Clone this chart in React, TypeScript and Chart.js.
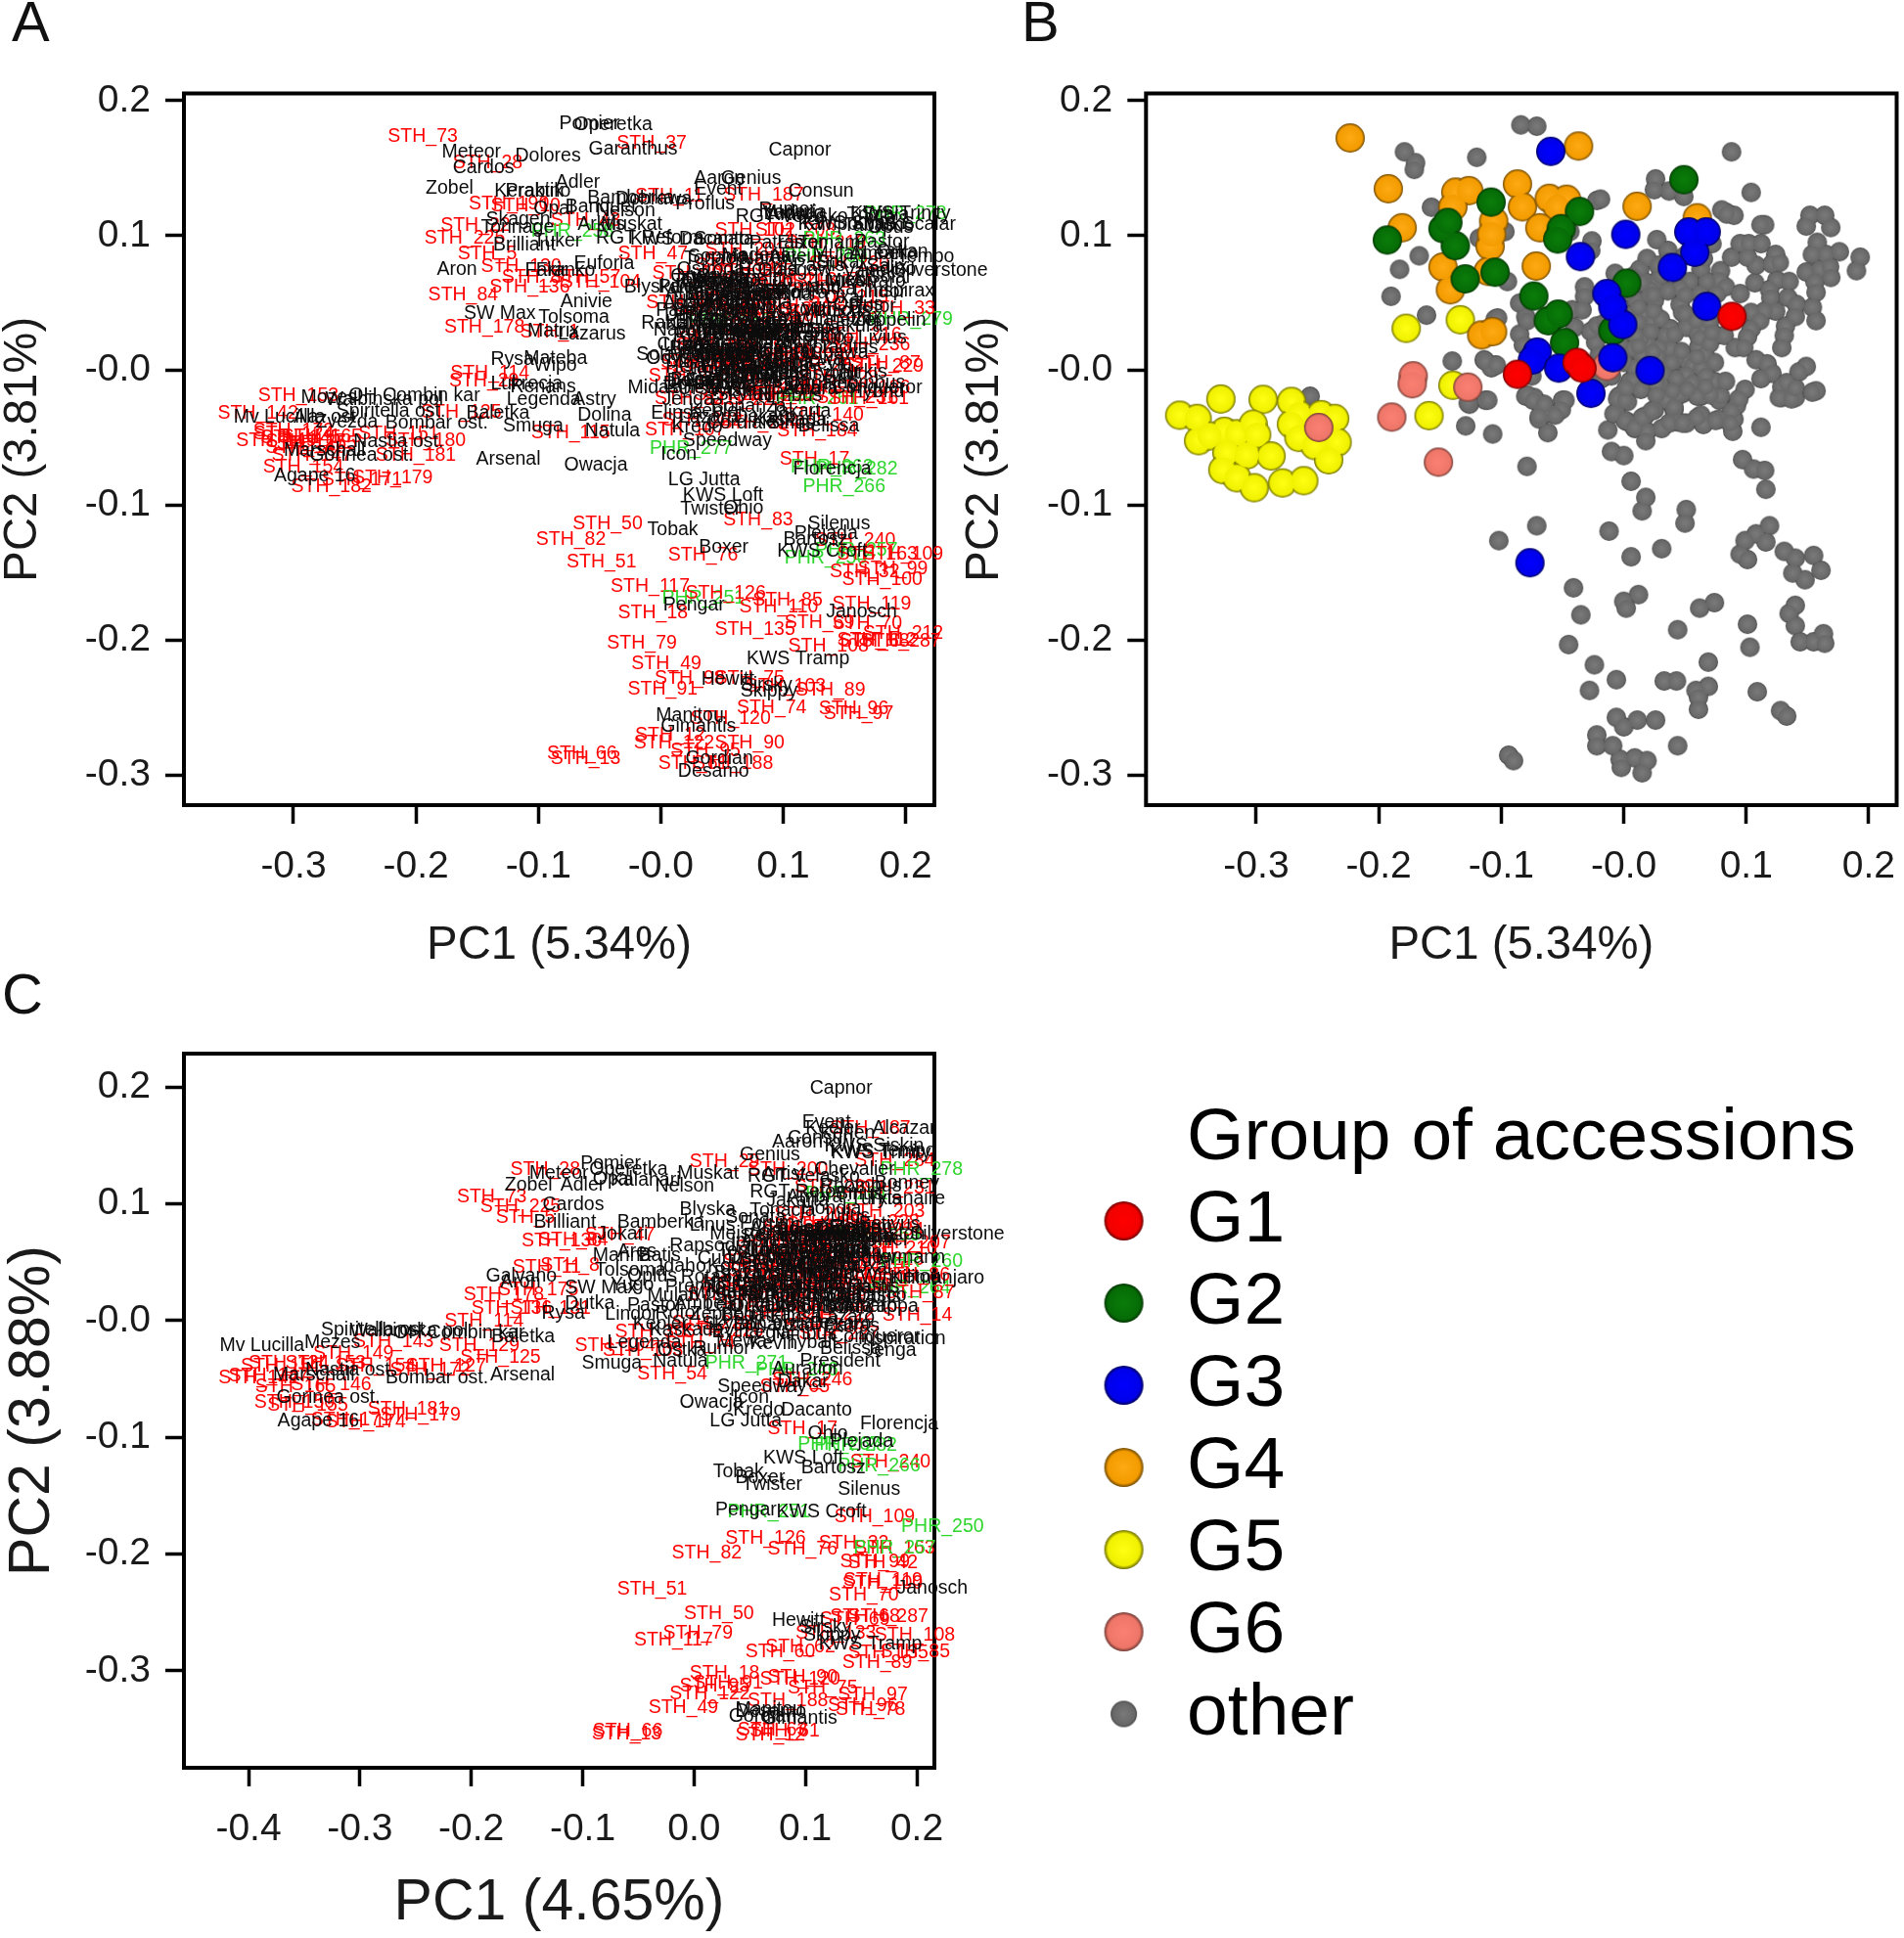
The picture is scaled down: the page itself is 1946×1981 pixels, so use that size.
import React, { useEffect, useRef } from "react";
import { Chart, registerables } from "chart.js";

Chart.register(...registerables);

type Row = [string, number, number];
type Pt = [number, number];

const FONT = '"Liberation Sans", Arial, sans-serif';

const xTicksAB = [-0.3, -0.2, -0.1, 0, 0.1, 0.2];
const xTickLabelsAB = ["-0.3", "-0.2", "-0.1", "-0.0", "0.1", "0.2"];
const xTicksC = [-0.4, -0.3, -0.2, -0.1, 0, 0.1, 0.2];
const xTickLabelsC = ["-0.4", "-0.3", "-0.2", "-0.1", "0.0", "0.1", "0.2"];
const yTicks = [0.2, 0.1, 0, -0.1, -0.2, -0.3];
const yTickLabels = ["0.2", "0.1", "-0.0", "-0.1", "-0.2", "-0.3"];

const legendNames = ["G1", "G2", "G3", "G4", "G5", "G6", "other"];

const g1Points: Pt[] = [[-0.0868, -0.0028], [-0.0381, 0.006], [-0.0341, 0.0018], [0.0884, 0.0401]];
const g2Points: Pt[] = [[0.0491, 0.1414], [-0.1083, 0.1248], [-0.0361, 0.1178], [-0.0511, 0.1051], [-0.0539, 0.0974], [-0.193, 0.0967], [-0.1476, 0.1051], [-0.1436, 0.1097], [-0.1375, 0.0925], [-0.1294, 0.0679], [-0.105, 0.0728], [0.0024, 0.0647], [-0.0734, 0.0552], [-0.0616, 0.0369], [-0.0535, 0.0418], [-0.0483, 0.0207], [-0.0089, 0.0295]];
const g3Points: Pt[] = [[-0.0596, 0.1624], [0.0016, 0.1009], [-0.0353, 0.0844], [0.0531, 0.1027], [0.0673, 0.1027], [0.058, 0.0876], [0.0397, 0.0763], [0.0677, 0.0475], [-0.0138, 0.057], [-0.0089, 0.0471], [-0.0008, 0.0341], [-0.0089, 0.0095], [-0.0706, 0.0137], [-0.0746, 0.0077], [-0.0531, 0.0018], [0.0215, 0], [-0.0268, -0.0169], [-0.0766, -0.1424]];
const g4Points: Pt[] = [[-0.2234, 0.1723], [-0.0369, 0.1663], [-0.1922, 0.1347], [-0.0868, 0.1382], [-0.0827, 0.1213], [0.0109, 0.1217], [0.06, 0.1132], [-0.1371, 0.1322], [-0.1265, 0.1333], [-0.1395, 0.1213], [-0.0608, 0.1276], [-0.0466, 0.1269], [-0.0543, 0.1213], [-0.0685, 0.1058], [-0.1809, 0.1058], [-0.0714, 0.0774], [-0.1476, 0.0767], [-0.1415, 0.0598], [-0.1091, 0.0921], [-0.1062, 0.1108], [-0.1079, 0.1009], [-0.1107, 0.0735], [-0.116, 0.0264], [-0.1071, 0.0288]];
const g5Points: Pt[] = [[-0.3289, -0.0211], [-0.2944, -0.0214], [-0.3625, -0.0331], [-0.3483, -0.0355], [-0.3471, -0.052], [-0.326, -0.045], [-0.3382, -0.0485], [-0.3159, -0.0468], [-0.3025, -0.0397], [-0.2997, -0.0475], [-0.324, -0.0608], [-0.3078, -0.0626], [-0.3273, -0.0735], [-0.3159, -0.0795], [-0.3017, -0.0868], [-0.2879, -0.0633], [-0.2786, -0.0833], [-0.2612, -0.0816], [-0.2713, -0.0229], [-0.2652, -0.0327], [-0.2713, -0.0397], [-0.2652, -0.0496], [-0.247, -0.0327], [-0.236, -0.0355], [-0.234, -0.0531], [-0.2522, -0.0556], [-0.2409, -0.0661], [-0.1776, 0.0313], [-0.1334, 0.0376], [-0.1395, -0.0109], [-0.159, -0.0334]];
const g6Points: Pt[] = [[-0.1719, -0.0039], [-0.1727, -0.0098], [-0.1273, -0.0123], [-0.1894, -0.0345], [-0.1513, -0.0679], [-0.249, -0.0422], [-0.0138, 0.0032]];

// grey accessions outside the dense core
const otherPoints: Pt[] = [[-0.026, 0.096], [-0.027, 0.089], [-0.022, 0.126], [-0.032, 0.062], [-0.032, 0.055], [-0.042, 0.045], [-0.034, 0.045], [-0.085, 0.05], [-0.08, 0.04], [-0.085, 0.027], [-0.082, 0.019], [-0.079, 0.037], [-0.04, 0.032], [-0.075, -0.004], [-0.105, 0.038], [-0.114, 0.008], [-0.105, 0.004], [-0.108, 0.002], [-0.018, -0.006], [-0.023, 0.021], [-0.027, 0.029], [-0.022, 0.033], [-0.08, -0.019], [-0.073, -0.02], [-0.068, -0.025], [-0.058, -0.032], [-0.069, -0.036], [-0.05, -0.022], [-0.064, -0.032], [-0.113, -0.022], [-0.126, -0.025], [-0.095, 0.066], [-0.097, 0.103], [-0.118, 0.098], [-0.044, 0.103],
[-0.084, 0.182], [-0.071, 0.181], [-0.12, 0.158], [-0.179, 0.162], [-0.17, 0.154], [-0.171, 0.149], [0.088, 0.162], [0.104, 0.132], [0.026, 0.142], [0.025, 0.134], [0.037, 0.133], [0.049, 0.129], [-0.019, 0.127], [-0.157, 0.121], [0.084, 0.117], [0.09, 0.115], [0.115, 0.108], [-0.167, 0.085], [-0.183, 0.075], [-0.19, 0.055], [-0.161, 0.041], [-0.103, 0.039], [-0.14, 0.007], [-0.113, 0.007], [-0.104, 0.004], [-0.256, -0.019], [-0.127, -0.024], [-0.111, -0.022], [-0.129, -0.041], [-0.107, -0.047], [-0.079, -0.071],
[0.006, -0.082], [0.018, -0.094], [0.015, -0.104], [0.051, -0.103], [0.05, -0.113], [0.097, -0.066], [0.106, -0.073], [0.115, -0.074], [0.116, -0.088], [-0.071, -0.115], [-0.102, -0.126], [-0.012, -0.119], [0.031, -0.132], [0.006, -0.138], [0.119, -0.115], [0.108, -0.121], [0.099, -0.126], [0.116, -0.127], [0.095, -0.136], [0.101, -0.14], [0.131, -0.134], [0.14, -0.139], [0.138, -0.15], [0.148, -0.155], [0.155, -0.137], [0.161, -0.148], [-0.041, -0.161], [-0.035, -0.181], [0.012, -0.166], [0, -0.171], [0.002, -0.176], [0.074, -0.172], [0.062, -0.176], [0.14, -0.174], [0.135, -0.18], [0.14, -0.189], [0.101, -0.188], [0.044, -0.192], [0.103, -0.205], [0.144, -0.201], [0.155, -0.201], [0.163, -0.195], [0.164, -0.202], [-0.045, -0.203], [-0.024, -0.218], [0.069, -0.216], [-0.006, -0.229], [-0.028, -0.237], [0.033, -0.23], [0.043, -0.23], [0.069, -0.234], [0.059, -0.237], [0.061, -0.242], [0.061, -0.251], [0.109, -0.238], [0.128, -0.252], [0.133, -0.256], [-0.006, -0.257], [0, -0.264], [0.011, -0.259], [0.026, -0.259], [-0.022, -0.27], [-0.022, -0.278], [-0.009, -0.278], [0.044, -0.278], [-0.003, -0.288], [0.009, -0.287], [0.019, -0.289], [0.015, -0.298], [-0.002, -0.294], [-0.094, -0.285], [-0.09, -0.289],
[-0.079, -0.018], [-0.074, -0.022], [-0.065, -0.025], [-0.048, -0.022], [-0.051, -0.029], [-0.056, -0.033], [-0.069, -0.034], [-0.062, -0.046], [-0.004, -0.019], [0.003, -0.023], [-0.006, -0.031], [0.003, -0.038], [0.009, -0.043], [0.017, -0.034], [0.025, -0.029], [0.019, -0.045], [0.018, -0.052], [0.031, -0.043], [0.037, -0.022], [0.048, -0.017], [0.041, -0.029], [0.043, -0.038], [0.051, -0.039], [0.063, -0.033], [0.065, -0.04], [0.078, -0.036], [0.089, -0.045], [0.09, -0.036], [0.092, -0.026], [0.063, -0.019], [0.078, -0.022], [0.112, -0.042], [-0.013, -0.044], [-0.01, -0.06], [0, -0.063], [0.129, -0.012], [0.14, -0.02], [0.129, -0.02], [0.157, -0.015], [0.015, -0.008], [0.03, -0.01], [0.006, -0.008]];

// dense core of accessions: same coordinates in panels A and B
const coreAB: Row[] = [["Sonata", 0.027, 0.097], ["STH_201", 0.036, 0.089], ["Tonacja", 0.019, 0.083], ["Ostroga", 0.013, 0.075], ["STH_202", -0.007, 0.072], ["Patras", 0.072, 0.094], ["Hondia", 0.063, 0.075], ["STH_203", 0.054, 0.066], ["Julius", 0.046, 0.061], ["Linus", 0.062, 0.057], ["Forum", 0.046, 0.049], ["STH_204", 0.048, 0.043], ["Reform", 0.025, 0.065], ["Estivus", 0.017, 0.066], ["Meister", 0.022, 0.06], ["STH_205", 0.025, 0.052], ["Fidelius", 0.01, 0.052], ["Florus", 0.017, 0.042], ["PHR_259", 0.023, 0.036], ["Gaston", 0.03, 0.038], ["Impression", 0.038, 0.031], ["STH_206", 0.051, 0.032], ["Markiza", 0.06, 0.028], ["Nordkap", 0.075, 0.026], ["Orlando", 0.067, 0.031], ["Pionier", 0.061, 0.017], ["STH_207", 0.052, 0.007], ["Rapsodia", 0.056, 0.004], ["Torrild", 0.063, 0.002], ["Tulecka", 0.051, -0.003], ["STH_209", 0.043, 0.009], ["Waxwing", 0.038, 0.016], ["Xenon", 0.029, 0.017], ["Zyta", 0.019, 0.021], ["STH_210", 0.014, 0.023], ["Batis", 0.007, 0.016], ["Cubus", -0.003, 0.019], ["Dekan", 0.005, -0.008], ["STH_211", 0.009, 0.002], ["Ellvis", 0.033, 0.002], ["Figura", 0.027, -0.01], ["Glasgow", 0.079, 0.074], ["STH_213", 0.078, 0.067], ["Hermann", 0.083, 0.062], ["Idaho", 0.076, 0.057], ["Kobra", 0.095, 0.057], ["STH_214", 0.107, 0.065], ["Limes", 0.125, 0.067], ["Mikon", 0.135, 0.066], ["Nutka", 0.119, 0.06], ["STH_215", 0.12, 0.054], ["Oxal", 0.134, 0.054], ["Qplus", 0.141, 0.049], ["Rotax", 0.14, 0.04], ["Sakura", 0.132, 0.033], ["STH_216", 0.131, 0.026], ["Tacitus", 0.129, 0.017], ["Ubicus", 0.124, 0.044], ["Viki", 0.115, 0.044], ["STH_217", 0.104, 0.043], ["Winnetou", 0.111, 0.037], ["Yugo", 0.104, 0.031], ["Premio", 0.101, 0.025], ["STH_218", 0.091, 0.017], ["Sailor", 0.098, 0.017], ["Akteur", 0.088, 0.084], ["Elixer", 0.095, 0.094], ["STH_219", 0.102, 0.094], ["Tomami", 0.112, 0.094], ["Pastis", 0.108, 0.078], ["PHR_260", 0.101, 0.084], ["Mulan", 0.124, 0.086], ["STH_220", 0.121, 0.079], ["Sokal", 0.127, 0.08], ["Kampo", 0.112, 0.108], ["Rumor", 0.08, 0.119], ["Ludwig", 0.084, 0.116], ["Trinity", 0.152, 0.115], ["Scala", 0.164, 0.115], ["Tabasco", 0.149, 0.107], ["Opus", 0.169, 0.106], ["Pastor", 0.158, 0.095], ["Ambello", 0.154, 0.086], ["Lear", 0.165, 0.086], ["Orkan", 0.176, 0.088], ["Tempo", 0.193, 0.084], ["Silverstone", 0.19, 0.074], ["Vanek", 0.149, 0.073], ["Andino", 0.16, 0.075], ["Salix", 0.168, 0.077], ["Solar", 0.169, 0.069], ["Alvaro", 0.156, 0.066], ["Lindor", 0.157, 0.058], ["Rotor", 0.154, 0.047], ["Zeppelin", 0.157, 0.037],
["Bogatka", 0.008, -0.007], ["STH_221", -0.005, -0.021], ["Jenga", 0.001, -0.022], ["Elipsa", -0.008, -0.032], ["STH_222", 0.001, -0.037], ["Kredo", 0.009, -0.042], ["Lazaro", 0.015, -0.035], ["Kepler", 0.023, -0.03], ["STH_223", 0.035, -0.022], ["Skyfall", 0.045, -0.018], ["Bonanza", 0.041, -0.027], ["Cordiale", 0.037, -0.039], ["STH_224", 0.048, -0.039], ["Dekaro", 0.06, -0.035], ["Kaskada", 0.075, -0.037], ["STH_226", 0.06, -0.019], ["Evina", 0.074, -0.008], ["Legia", 0.083, -0.008], ["Nimbus", 0.079, -0.019], ["STH_227", 0.071, -0.018], ["Mewa", 0.108, 0.008], ["Kevin", 0.117, 0.005], ["Tybalt", 0.121, -0.002], ["STH_228", 0.112, -0.006], ["Ambra", 0.099, -0.014], ["PHR_261", 0.094, -0.021], ["Jakarta", 0.088, -0.03], ["Sirius", 0.087, -0.039], ["STH_229", 0.149, 0.003], ["Turkis", 0.143, -0.001], ["Rhombus", 0.133, -0.009], ["STH_231", 0.127, -0.02], ["STH_161", 0.137, -0.021], ["Conqueror", 0.14, -0.013], ["Hybrid", 0.154, -0.016],
["Arkadia", 0.004, 0.058], ["STH_232", 0.012, 0.047], ["Bosanova", 0.021, 0.056], ["Cezar", 0.024, 0.056], ["STH_233", 0.036, 0.059], ["Dubaj", 0.003, 0.041], ["Elegia", 0.012, 0.036], ["STH_234", 0.024, 0.044], ["Feniks", 0.034, 0.026], ["Galeras", 0.041, 0.027], ["STH_235", 0.022, 0.029], ["Harenda", 0.015, 0.011], ["Ibiza", 0.028, 0.01], ["STH_237", 0.039, 0.006], ["Jarek", 0.047, 0.014], ["Kalmar", 0.062, 0.024], ["STH_238", 0.066, 0.012], ["Lokaj", 0.074, 0.006], ["Mazur", 0.07, 0.02], ["STH_239", 0.082, 0.026], ["Nawigator", -0.006, 0.03], ["Odys", -0.012, 0.009], ["STH_241", 0, 0.006], ["Pamir", -0.004, 0.044], ["Rubin", 0.01, 0.026], ["STH_242", 0.02, 0.005], ["Sawa", 0.032, -0.002], ["Tarkus", 0.043, -0.006], ["STH_243", 0.056, -0.009], ["Ulan", 0.067, -0.004], ["Alba", 0.015, 0.065], ["Bryza", 0.03, 0.07], ["STH_245", 0.043, 0.073], ["Corso", 0.05, 0.056], ["Delfin", 0.068, 0.066], ["Helios", 0.05, 0.042], ["STH_249", 0.059, 0.037], ["Iskra", 0.07, 0.036], ["STH_253", 0.036, 0.082], ["Modena", 0.05, 0.085], ["Narew", 0.065, 0.083], ["STH_254", 0.028, 0.078], ["Orion", 0.008, 0.07], ["Pilica", -0.002, 0.062], ["STH_255", -0.012, 0.05], ["Raba", -0.016, 0.035], ["Sola", -0.02, 0.012], ["STH_256", -0.01, -0.004], ["Tanew", 0.002, -0.013], ["Ursa", 0.014, -0.014], ["STH_258", 0.027, -0.018], ["Wisla", 0.04, -0.015], ["Wkra", 0.052, -0.014], ["STH_259", 0.067, -0.012], ["STH_260", 0.012, 0.018], ["Gwda", 0.024, 0.014], ["Hel", 0.06, 0.01], ["Ina", 0.072, 0.028]];

const panelALabels: Row[] = [["STH_73", -0.223, 0.173], ["Pomier", -0.083, 0.183], ["Operetka", -0.071, 0.182], ["STH_37", -0.036, 0.168], ["Garanthus", -0.059, 0.164], ["Capnor", 0.088, 0.163], ["Meteor", -0.179, 0.162], ["STH_28", -0.17, 0.154], ["Dolores", -0.119, 0.159], ["Cardos", -0.17, 0.15], ["Adler", -0.086, 0.139], ["Aaron", 0.027, 0.142], ["Genius", 0.049, 0.142], ["Event", 0.027, 0.134], ["STH_187", 0.051, 0.13], ["Consun", 0.104, 0.133], ["Zobel", -0.192, 0.135], ["Kerabino", -0.136, 0.133], ["Praktik", -0.127, 0.133], ["Bamberka", -0.06, 0.128], ["Dobrawa", -0.037, 0.127], ["STH_11", -0.021, 0.129], ["Proflus", 0.012, 0.123], ["Opal", -0.104, 0.12], ["Banquet", -0.078, 0.121], ["Nelson", -0.053, 0.118], ["STH_190", -0.157, 0.123], ["STH_10", -0.139, 0.122], ["Varieria", 0.083, 0.117], ["RGT Velasko", 0.061, 0.114], ["Artist", 0.087, 0.115], ["KWS Trinity", 0.155, 0.116], ["PHR_278", 0.166, 0.116], ["KWS Sharki", 0.116, 0.109], ["KWS Scalar", 0.157, 0.108], ["Skagen", -0.143, 0.112], ["STH_43", -0.09, 0.111], ["Tonnage", -0.147, 0.106], ["STH_22", -0.18, 0.107], ["Arktis", -0.068, 0.108], ["Muskat", -0.049, 0.108], ["STH_225", -0.193, 0.098], ["PHR_258", -0.106, 0.103], ["Brilliant", -0.137, 0.093], ["Tuker", -0.104, 0.096], ["RGT Reform", -0.053, 0.098], ["KWS Dacanto", -0.025, 0.097], ["STH_47", -0.035, 0.086], ["STH_5", -0.166, 0.086], ["Sophia", 0.022, 0.084], ["Aron", -0.183, 0.075], ["STH_130", -0.147, 0.077], ["Fakir", -0.111, 0.074], ["Franko", -0.102, 0.074], ["Euforia", -0.071, 0.079], ["STH_57", -0.09, 0.069], ["STH_104", -0.082, 0.065], ["STH_8", -0.13, 0.069], ["STH_136", -0.14, 0.062], ["Blyska", -0.03, 0.062], ["STH_84", -0.19, 0.056], ["Anivie", -0.082, 0.051], ["SW Max", -0.161, 0.042], ["Tolsoma", -0.1, 0.039], ["STH_178", -0.177, 0.032], ["STH_1", -0.115, 0.028], ["Matrix", -0.109, 0.029], ["Lazarus", -0.084, 0.027], ["Rysa", -0.139, 0.008], ["Mateba", -0.112, 0.009], ["Wipo", -0.104, 0.004], ["STH_114", -0.172, -0.002], ["STH_29", -0.173, -0.008], ["Lukrecja", -0.139, -0.01], ["Renans", -0.123, -0.012], ["Legenda", -0.126, -0.022], ["Astry", -0.072, -0.022], ["Baletka", -0.159, -0.032], ["Smuga", -0.129, -0.041], ["Natula", -0.062, -0.045], ["STH_115", -0.106, -0.046], ["Dolina", -0.068, -0.033], ["Arsenal", -0.151, -0.066], ["Owacja", -0.079, -0.07], ["PHR_277", -0.009, -0.058], ["Icon", 0, -0.062], ["Speedway", 0.018, -0.052], ["STH_107", -0.013, -0.044], ["LG Jutta", 0.006, -0.081], ["KWS Loft", 0.018, -0.093], ["Twister", 0.016, -0.103], ["Ohio", 0.051, -0.102], ["STH_83", 0.051, -0.111], ["STH_50", -0.072, -0.114], ["STH_82", -0.102, -0.125], ["Tobak", -0.011, -0.118], ["Boxer", 0.031, -0.131], ["STH_76", 0.006, -0.137], ["STH_51", -0.077, -0.142], ["STH_117", -0.041, -0.16], ["PHR_251", 0.001, -0.169], ["STH_126", 0.02, -0.165], ["Pengar", 0.002, -0.174], ["STH_18", -0.035, -0.18], ["STH_110", 0.064, -0.175], ["STH_85", 0.075, -0.17], ["STH_135", 0.044, -0.192], ["STH_69", 0.101, -0.187], ["STH_70", 0.14, -0.188], ["STH_119", 0.14, -0.173], ["Janosch", 0.135, -0.179], ["STH_79", -0.044, -0.202], ["STH_108", 0.104, -0.204], ["STH_112", 0.144, -0.2], ["STH_212", 0.165, -0.195], ["STH_68", 0.146, -0.201], ["STH_287", 0.163, -0.201], ["KWS Tramp", 0.07, -0.214], ["STH_49", -0.024, -0.217], ["STH_91", -0.027, -0.236], ["STH_89", 0.11, -0.237], ["STH_98", -0.005, -0.228], ["Hewitt", 0.033, -0.229], ["STH_75", 0.044, -0.228], ["Sirsky", 0.065, -0.233], ["Skippy", 0.065, -0.238], ["STH_103", 0.069, -0.234], ["STH_74", 0.062, -0.25], ["STH_96", 0.129, -0.251], ["STH_97", 0.133, -0.254], ["Manitou", -0.004, -0.256], ["STH_120", 0.024, -0.258], ["Gimantis", 0, -0.264], ["STH_12", -0.021, -0.27], ["STH_122", -0.022, -0.276], ["STH_90", 0.044, -0.276], ["STH_66", -0.093, -0.284], ["STH_13", -0.09, -0.288], ["STH_95", 0.008, -0.282], ["Gordian", 0.02, -0.288], ["STH_188", 0.026, -0.291], ["STH_61", -0.002, -0.291], ["Desamo", 0.014, -0.297], ["STH_17", 0.097, -0.066], ["PHR_262", 0.106, -0.072], ["PHR_282", 0.126, -0.073], ["Florencja", 0.108, -0.073], ["PHR_266", 0.116, -0.086], ["Silenus", 0.12, -0.114], ["Plejada", 0.109, -0.121], ["Bartosz", 0.1, -0.125], ["STH_240", 0.126, -0.126], ["KWS Croft", 0.095, -0.134], ["PHR_257", 0.126, -0.133], ["PHR_250", 0.101, -0.139], ["STH_163", 0.144, -0.136], ["STH_109", 0.165, -0.136], ["STH_99", 0.161, -0.147], ["STH_32", 0.138, -0.149], ["STH_100", 0.148, -0.155],
["STH_142", -0.362, -0.032], ["Mv Lucilla", -0.349, -0.035], ["Wałbinska pol", -0.274, -0.022], ["OH Combin kar", -0.255, -0.019], ["STH_153", -0.329, -0.019], ["Mozes", -0.294, -0.02], ["Spiritella ost.", -0.265, -0.03], ["Alla ost.", -0.3, -0.035], ["Zvezda", -0.282, -0.038], ["Bombar ost.", -0.225, -0.039], ["STH_181", -0.233, -0.063], ["STH_180", -0.225, -0.052], ["Nastia ost.", -0.251, -0.053], ["Marschall", -0.308, -0.059], ["Gorinea ost.", -0.287, -0.063], ["Agape 16", -0.316, -0.078], ["STH_182", -0.302, -0.086], ["STH_171", -0.277, -0.081], ["STH_179", -0.252, -0.08], ["STH_154", -0.325, -0.072], ["STH_151", -0.247, -0.047], ["STH_124", -0.333, -0.047], ["STH_149", -0.347, -0.052], ["STH_127", -0.323, -0.053], ["STH_146", -0.323, -0.057], ["STH_147", -0.318, -0.063], ["STH_172", -0.333, -0.045], ["STH_155", -0.314, -0.054], ["STH_165", -0.31, -0.049], ["STH_145", -0.327, -0.05], ["STH_125", -0.196, -0.031],
["Inspirax", 0.169, 0.059], ["PHR_279", 0.171, 0.038], ["Livius", 0.161, 0.024], ["Kiro", 0.13, 0.024], ["STH_236", 0.138, 0.019], ["STH_87", 0.155, 0.005], ["STH_186", 0.138, -0.013], ["STH_140", 0.1, -0.033], ["Belissa", 0.112, -0.041], ["STH_184", 0.095, -0.045], ["Midas", -0.027, -0.013], ["STH_33", 0.167, 0.046], ["STH_208", 0.077, 0.104], ["STH_102", 0.044, 0.104], ["PHR_263", 0.116, 0.097],
["Wilga", 0.086, 0.005], ["STH_244", 0.094, 0.011], ["Zenit", 0.087, -0.003], ["STH_247", 0.075, 0.045], ["Emir", 0.085, 0.038], ["Fregata", 0.093, 0.031], ["STH_248", 0.082, 0.048], ["Grom", 0.096, 0.045], ["Jantar", 0.084, 0.014], ["STH_252", 0.1, 0.004], ["Kaszub", 0.105, -0.003], ["Lubawa", 0.115, 0.013], ["Bzura", 0.09, -0.014], ["Dunajec", 0.103, -0.01],
["Adagio", 0.002, 0.05], ["Bezostaja", 0.01, 0.044], ["Cyklon", 0.018, 0.048], ["Dublet", 0.028, 0.052], ["Etana", 0.036, 0.046], ["Fortis", 0.044, 0.055], ["Gamma", 0.052, 0.05], ["Hawk", 0.06, 0.046], ["Irys", 0.07, 0.052], ["Jawa", 0.078, 0.04], ["Kamelia", 0.004, 0.034], ["Lotos", 0.012, 0.028], ["Magnat", 0.02, 0.034], ["Nawa", 0.03, 0.03], ["Omega", 0.04, 0.036], ["Polan", 0.048, 0.028], ["Quarta", 0.056, 0.034], ["Rywal", 0.066, 0.026], ["Sukces", 0.076, 0.032], ["Tercja", 0.086, 0.022], ["Uran", 0.002, 0.018], ["Wega", 0.01, 0.012], ["Zorza", 0.018, 0.016], ["Astra", 0.026, 0.02], ["Bona", 0.036, 0.012], ["Clara", 0.044, 0.018], ["Dana", 0.053, 0.012], ["Ewa", 0.062, 0.016], ["Fala", 0.07, 0.01], ["Gala", 0.08, 0.012], ["Hera", 0.004, 0.002], ["Iga", 0.014, 0.006], ["Juna", 0.022, 0], ["Kora", 0.032, 0.006], ["Lena", 0.04, 0.001], ["Mira", 0.048, 0.004], ["Nika", 0.058, 0], ["Ola", 0.066, 0.004], ["Pola", 0.074, -0.002], ["Runa", 0.084, 0], ["Tola", 0.01, 0.066], ["Wanda", 0.024, 0.068], ["Zofia", 0.038, 0.064], ["Ada", 0.054, 0.068], ["Basia", 0.066, 0.06], ["Celina", 0.08, 0.056], ["Dorota", 0.002, -0.01], ["Ela", 0.02, -0.008], ["Fryda", 0.038, -0.01], ["Gosia", 0.056, -0.006]];

const panelCLabels: Row[] = [["Capnor", 0.104, 0.199], ["Event", 0.097, 0.169], ["Keeler", 0.1, 0.164], ["STH_187", 0.122, 0.164], ["Alcazar", 0.16, 0.164], ["Kerlen", 0.113, 0.16], ["Consun", 0.084, 0.156], ["Aaron", 0.07, 0.153], ["KWS Siskin", 0.117, 0.149], ["KWS Tempo", 0.122, 0.145], ["KWS Trinity", 0.123, 0.143], ["Genius", 0.041, 0.142], ["STH_29", -0.004, 0.136], ["STH_284", 0.144, 0.137], ["PHR_278", 0.167, 0.129], ["STH_28", -0.165, 0.129], ["Pomier", -0.102, 0.134], ["Operetka", -0.094, 0.129], ["Meteor", -0.148, 0.126], ["Muskat", -0.015, 0.126], ["STH_200", 0.048, 0.129], ["RGT Velasko", 0.048, 0.123], ["Artist", 0.061, 0.125], ["Chevalier", 0.108, 0.129], ["Opal", -0.091, 0.121], ["Zobel", -0.17, 0.116], ["Adler", -0.12, 0.116], ["Kalahari", -0.075, 0.12], ["Nelson", -0.035, 0.115], ["Bonney", 0.162, 0.117], ["RGT Reform", 0.05, 0.11], ["STH_73", -0.213, 0.106], ["STH_225", -0.192, 0.097], ["Cardos", -0.136, 0.099], ["Tytanaire", 0.155, 0.104], ["STH_5", -0.178, 0.088], ["Brilliant", -0.144, 0.084], ["Blyska", -0.013, 0.095], ["Bamberka", -0.069, 0.084], ["Jokari", -0.087, 0.074], ["STH_47", -0.098, 0.073], ["STH_130", -0.155, 0.068], ["STH_84", -0.14, 0.069], ["Silverstone", 0.194, 0.074], ["Marina", -0.091, 0.055], ["Ares", -0.069, 0.059], ["Tolsoma", -0.089, 0.043], ["STH_11", -0.163, 0.045], ["STH_8", -0.138, 0.047], ["PHR_260", 0.167, 0.05], ["STH_86", 0.167, 0.039], ["Kilimanjaro", 0.176, 0.036], ["Galvano", -0.187, 0.038], ["Aron", -0.174, 0.033], ["STH_178", -0.207, 0.022], ["STH_175", -0.176, 0.026], ["SW Max", -0.116, 0.028], ["STH_87", 0.171, 0.024], ["STH_114", -0.224, -0.001], ["STH_136", -0.2, 0.01], ["STH_131", -0.165, 0.01], ["Rysa", -0.137, 0.006], ["Dutka", -0.116, 0.014], ["STH_14", 0.169, 0.004], ["Zappa", 0.153, 0.012], ["Baletka", -0.182, -0.014], ["STH_129", -0.229, -0.022], ["STH_125", -0.21, -0.032], ["Arsenal", -0.183, -0.047], ["Legenda", -0.078, -0.019], ["STH_104", -0.107, -0.022], ["STH_103", -0.082, -0.026], ["Smuga", -0.101, -0.037], ["Natula", -0.037, -0.035], ["Ostka", -0.033, -0.026], ["STH_54", -0.051, -0.046], ["STH_305", -0.071, -0.01], ["STH_74", -0.026, -0.02], ["Rumor", -0.001, -0.024], ["PHR_271", 0.01, -0.037], ["PHR_246", 0.055, -0.043], ["STH_246", 0.07, -0.051], ["Auration", 0.07, -0.042], ["President", 0.095, -0.035], ["Belissa", 0.113, -0.024], ["Jenga", 0.153, -0.026], ["Inspiration", 0.147, -0.016], ["Conqueror", 0.122, -0.014], ["Patras", 0.117, -0.005], ["Dakar", 0.075, -0.053], ["Speedway", 0.021, -0.057], ["STH_65", 0.059, -0.057], ["Owacja", -0.013, -0.07], ["Icon", 0.035, -0.066], ["Kredo", 0.035, -0.077], ["Dacanto", 0.078, -0.077], ["LG Jutta", 0.014, -0.086], ["Florencja", 0.149, -0.089], ["STH_17", 0.066, -0.093], ["Ohio", 0.102, -0.097], ["PHR_267", 0.093, -0.106], ["PHR_282", 0.108, -0.107], ["Plejada", 0.122, -0.104], ["KWS Loft", 0.062, -0.118], ["Bartosz", 0.096, -0.126], ["STH_240", 0.14, -0.121], ["PHR_266", 0.129, -0.125], ["Tobak", 0.017, -0.13], ["Boxer", 0.037, -0.135], ["Twister", 0.043, -0.141], ["Silenus", 0.129, -0.145], ["PHR_251", 0.03, -0.164], ["Pengar", 0.019, -0.162], ["KWS Croft", 0.074, -0.164], ["STH_109", 0.126, -0.168], ["PHR_250", 0.186, -0.177], ["STH_126", 0.028, -0.187], ["STH_76", 0.066, -0.196], ["STH_32", 0.112, -0.191], ["STH_163", 0.144, -0.195], ["PHR_257", 0.143, -0.195], ["STH_82", -0.02, -0.199], ["STH_99", 0.131, -0.207], ["STH_42", 0.138, -0.208], ["STH_100", 0.133, -0.225], ["STH_119", 0.134, -0.223], ["Janosch", 0.182, -0.229], ["STH_70", 0.121, -0.235], ["STH_51", -0.069, -0.23], ["STH_50", -0.009, -0.251], ["Hewitt", 0.07, -0.257], ["STH_68", 0.122, -0.254], ["STH_287", 0.138, -0.254], ["STH_69", 0.113, -0.256], ["STH_79", -0.028, -0.268], ["STH_117", -0.054, -0.274], ["Sirsky", 0.095, -0.263], ["Skippy", 0.098, -0.27], ["STH_133", 0.091, -0.268], ["STH_108", 0.162, -0.27], ["KWS Tramp", 0.112, -0.277], ["STH_62", 0.064, -0.28], ["STH_60", 0.046, -0.284], ["STH_135", 0.138, -0.285], ["STH_85", 0.167, -0.284], ["STH_89", 0.133, -0.293], ["STH_18", -0.004, -0.302], ["STH_120", 0.059, -0.307], ["STH_90", 0.066, -0.306], ["STH_75", 0.084, -0.315], ["STH_95", -0.013, -0.313], ["STH_91", -0.001, -0.311], ["STH_122", -0.022, -0.32], ["STH_97", 0.129, -0.321], ["STH_188", 0.048, -0.326], ["STH_96", 0.12, -0.33], ["STH_78", 0.127, -0.333], ["STH_49", -0.041, -0.332], ["Manitou", 0.037, -0.333], ["Desamo", 0.037, -0.335], ["Gordian", 0.031, -0.339], ["Gimantis", 0.061, -0.341], ["STH_66", -0.091, -0.352], ["STH_13", -0.092, -0.354], ["STH_63", 0.039, -0.351], ["STH_61", 0.05, -0.352], ["STH_12", 0.037, -0.355],
["Spiritella ost.", -0.335, -0.008], ["Wałbinska pol", -0.309, -0.009], ["OH Combin kar", -0.27, -0.011], ["Mezes", -0.35, -0.019], ["STH_143", -0.306, -0.018], ["STH_149", -0.342, -0.028], ["Mv Lucilla", -0.426, -0.022], ["STH_172", -0.273, -0.043], ["STH_127", -0.259, -0.039], ["STH_154", -0.322, -0.039], ["STH_142", -0.427, -0.049], ["STH_147", -0.418, -0.048], ["STH_151", -0.407, -0.039], ["STH_124", -0.4, -0.037], ["STH_153", -0.367, -0.037], ["Marschall", -0.378, -0.047], ["Nastia ost.", -0.349, -0.043], ["Bombar ost.", -0.277, -0.049], ["STH_165", -0.394, -0.057], ["STH_146", -0.362, -0.055], ["Gorinea ost.", -0.375, -0.066], ["STH_150", -0.395, -0.07], ["STH_155", -0.383, -0.073], ["Agape 16", -0.374, -0.086], ["STH_181", -0.293, -0.076], ["STH_179", -0.282, -0.081], ["STH_174", -0.331, -0.087], ["STH_171", -0.344, -0.085]];

const coreC: Row[] = [["Tonacja", 0.05, 0.094], ["STH_201", 0.072, 0.091], ["Hondia", 0.096, 0.096], ["Sonata", 0.028, 0.088], ["Julius", 0.114, 0.089], ["STH_203", 0.135, 0.093], ["Linus", -0.004, 0.081], ["Forum", 0.041, 0.083], ["STH_204", 0.083, 0.082], ["Reform", 0.122, 0.08], ["Estivus", 0.148, 0.082], ["Meister", 0.014, 0.074], ["STH_205", 0.06, 0.075], ["Fidelius", 0.091, 0.074], ["Florus", 0.107, 0.076], ["PHR_259", 0.129, 0.073], ["Gaston", 0.152, 0.074], ["Impression", 0.033, 0.068], ["STH_206", 0.052, 0.067], ["Markiza", 0.078, 0.07], ["Nordkap", 0.098, 0.068], ["Orlando", 0.118, 0.071], ["Pionier", 0.14, 0.069], ["STH_207", 0.158, 0.066], ["Rapsodia", -0.022, 0.064], ["Torrild", 0.021, 0.06], ["Tulecka", 0.044, 0.061], ["STH_209", 0.066, 0.063], ["Waxwing", 0.087, 0.062], ["Xenon", 0.105, 0.061], ["Zyta", 0.126, 0.06], ["STH_210", 0.146, 0.061], ["Batis", -0.05, 0.055], ["Cubus", 0.003, 0.053], ["Dekan", 0.03, 0.054], ["STH_211", 0.056, 0.054], ["Ellvis", 0.074, 0.056], ["Figura", 0.095, 0.053], ["Glasgow", 0.115, 0.054], ["STH_213", 0.134, 0.052], ["Hermann", 0.155, 0.054], ["Idaho", -0.032, 0.046], ["Kobra", 0.012, 0.046], ["STH_214", 0.039, 0.045], ["Limes", 0.064, 0.047], ["Mikon", 0.083, 0.045], ["Nutka", 0.103, 0.046], ["STH_215", 0.122, 0.044], ["Oxal", 0.142, 0.045], ["Qplus", -0.06, 0.038], ["Rotax", -0.012, 0.037], ["Sakura", 0.023, 0.038], ["STH_216", 0.047, 0.037], ["Tacitus", 0.071, 0.038], ["Ubicus", 0.09, 0.036], ["Viki", 0.111, 0.038], ["STH_217", 0.13, 0.036], ["Winnetou", 0.149, 0.037], ["Yugo", -0.075, 0.03], ["Premio", -0.026, 0.029], ["STH_218", 0.006, 0.03], ["Sailor", 0.033, 0.029], ["Akteur", 0.057, 0.03], ["Elixer", 0.079, 0.028], ["STH_219", 0.099, 0.03], ["Tomami", 0.118, 0.028], ["Pastis", 0.138, 0.029], ["PHR_264", 0.156, 0.028], ["Mulan", -0.042, 0.021], ["STH_220", -0.006, 0.022], ["Sokal", 0.018, 0.021], ["Kampo", 0.042, 0.022], ["Rumor", 0.064, 0.02], ["Ludwig", 0.087, 0.021], ["Scala", 0.108, 0.019], ["Tabasco", 0.127, 0.021], ["Opus", 0.145, 0.02], ["Pastor", -0.06, 0.013], ["Ambello", -0.018, 0.014], ["Lear", 0.01, 0.013], ["Orkan", 0.032, 0.012], ["Vanek", 0.053, 0.013], ["Andino", 0.075, 0.011], ["Salix", 0.094, 0.013], ["Solar", 0.114, 0.011], ["Alvaro", 0.134, 0.012], ["Lindor", -0.08, 0.005], ["Rotor", -0.035, 0.006], ["Zeppelin", -0.004, 0.005], ["Bogatka", 0.024, 0.004], ["STH_221", 0.047, 0.006], ["Elipsa", 0.068, 0.003], ["STH_222", 0.09, 0.005], ["Lazaro", 0.11, 0.003], ["Kepler", -0.055, -0.003], ["STH_223", -0.02, -0.002], ["Skyfall", 0.007, -0.003], ["Bonanza", 0.035, -0.004], ["Cordiale", 0.058, -0.002], ["STH_224", 0.081, -0.005], ["Dekaro", 0.104, -0.003], ["Kaskada", -0.04, -0.008], ["STH_226", -0.01, -0.009], ["Evina", 0.016, -0.01], ["Legia", 0.045, -0.011], ["Nimbus", 0.07, -0.012], ["STH_227", 0.094, -0.012], ["Mewa", 0.02, -0.018], ["Kevin", 0.05, -0.02], ["Tybalt", 0.083, -0.019], ["STH_228", 0.13, 0.084], ["Ambra", 0.083, 0.106], ["PHR_261", 0.1, 0.108], ["Jakarta", 0.065, 0.102], ["Sirius", 0.127, 0.108], ["STH_229", 0.09, 0.114], ["Turkis", 0.14, 0.104], ["Rhombus", 0.113, 0.115], ["STH_231", 0.144, 0.113],
["Arkadia", 0.05, 0.078], ["STH_232", 0.062, 0.08], ["Bosanova", 0.074, 0.077], ["Cezar", 0.086, 0.079], ["STH_233", 0.097, 0.08], ["Dubaj", 0.109, 0.078], ["Elegia", 0.121, 0.079], ["STH_234", 0.134, 0.077], ["Feniks", 0.044, 0.072], ["Galeras", 0.057, 0.073], ["STH_235", 0.069, 0.074], ["Harenda", 0.081, 0.072], ["Ibiza", 0.093, 0.073], ["STH_237", 0.105, 0.072], ["Jarek", 0.116, 0.073], ["Kalmar", 0.128, 0.071], ["STH_238", 0.037, 0.062], ["Lokaj", 0.05, 0.06], ["Mazur", 0.061, 0.061], ["STH_239", 0.072, 0.059], ["Nawigator", 0.082, 0.058], ["Odys", 0.093, 0.059], ["STH_241", 0.104, 0.057], ["Pamir", 0.114, 0.06], ["Rubin", 0.124, 0.058], ["STH_242", 0.026, 0.05], ["Sawa", 0.04, 0.052], ["Tarkus", 0.05, 0.049], ["STH_243", 0.062, 0.051], ["Ulan", 0.072, 0.05], ["Wilga", 0.084, 0.049], ["STH_244", 0.095, 0.047], ["Zenit", 0.107, 0.05], ["Alba", 0.116, 0.047], ["Bryza", 0.018, 0.04], ["STH_245", 0.03, 0.043], ["Corso", 0.044, 0.04], ["Delfin", 0.055, 0.042], ["STH_247", 0.066, 0.04], ["Emir", 0.078, 0.041], ["Fregata", 0.086, 0.04], ["STH_248", 0.097, 0.039], ["Grom", 0.105, 0.04], ["Helios", 0.008, 0.033], ["STH_249", 0.022, 0.032], ["Iskra", 0.038, 0.033], ["Jantar", 0.052, 0.031], ["STH_252", 0.064, 0.033], ["Kaszub", 0.076, 0.03], ["Lubawa", 0.092, 0.031], ["STH_253", 0.103, 0.03], ["Modena", -0.004, 0.024], ["Narew", 0.012, 0.025], ["STH_254", 0.027, 0.024], ["Orion", 0.05, 0.024], ["Pilica", 0.07, 0.023], ["STH_255", 0.083, 0.025], ["Raba", 0.1, 0.023], ["Sola", 0.117, 0.022], ["STH_256", 0.025, 0.014], ["Tanew", 0.045, 0.015], ["Ursa", 0.065, 0.012], ["STH_258", 0.082, 0.013], ["Wisla", 0.101, 0.013], ["Wkra", 0.12, 0.012]];

const SPHERE_STOPS: Record<string, [string, string, string]> = {
  G1: ["#ff0000", "#f20000", "#6a0000"],
  G2: ["#0a7d0a", "#066c06", "#033503"],
  G3: ["#0000ff", "#0000ea", "#00005a"],
  G4: ["#ffa914", "#f29c00", "#6e4700"],
  G5: ["#ffff14", "#f0f000", "#6a6a00"],
  G6: ["#fa8072", "#ee7668", "#6e3a34"],
  other: ["#7a7a7a", "#686868", "#484848"],
};

function sphere(group: string, r: number): HTMLCanvasElement {
  const c = document.createElement("canvas");
  const size = Math.ceil(r * 2) + 2;
  c.width = size;
  c.height = size;
  const g = c.getContext("2d")!;
  const m = size / 2;
  const [main, mid, dark] = SPHERE_STOPS[group];
  const grad = g.createRadialGradient(m, m, 0, m, m, r);
  grad.addColorStop(0, main);
  grad.addColorStop(0.82, mid);
  grad.addColorStop(1, dark);
  g.fillStyle = grad;
  g.beginPath();
  g.arc(m, m, r, 0, Math.PI * 2);
  g.fill();
  return c;
}

function framePlugin() {
  return {
    id: "frame",
    beforeDatasetsDraw(chart: any) {
      const { left, top, width, height } = chart.chartArea;
      const ctx = chart.ctx;
      ctx.save();
      ctx.strokeStyle = "#000";
      ctx.lineWidth = 4;
      ctx.strokeRect(left, top, width, height);
      ctx.restore();
    },
  };
}

function letterPlugin(letter: string, x: number, y: number) {
  return {
    id: "panelLetter",
    afterDraw(chart: any) {
      const ctx = chart.ctx;
      ctx.save();
      ctx.font = `58px ${FONT}`;
      ctx.fillStyle = "#111";
      ctx.textAlign = "left";
      ctx.textBaseline = "middle";
      ctx.fillText(letter, x, y);
      ctx.restore();
    },
  };
}

// Accession names: the coloured ones first, the black ones over them, as the dense core reads in the reference.
const accessionLabelPlugin = {
  id: "accessionLabels",
  afterDatasetsDraw(chart: any) {
    const ctx = chart.ctx;
    ctx.save();
    ctx.font = `19.5px ${FONT}`;
    ctx.textAlign = "left";
    ctx.textBaseline = "middle";
    chart.data.datasets.forEach((ds: any, i: number) => {
      if (!ds.names) return;
      const meta = chart.getDatasetMeta(i);
      [true, false].forEach((colouredPass) => {
        meta.data.forEach((el: any, j: number) => {
          const name: string = ds.names[j];
          const isSth = name.startsWith("STH");
          const isPhr = name.startsWith("PHR");
          if ((isSth || isPhr) !== colouredPass) return;
          ctx.fillStyle = isSth ? "#ff0000" : isPhr ? "#2ed62e" : "#0c0c0c";
          ctx.fillText(name, el.x, el.y);
        });
      });
    });
    ctx.restore();
  },
};

// Paints the body of each sphere after its group's rims, so touching spheres merge as in the reference.
const sphereBodyPlugin = {
  id: "sphereBody",
  afterDatasetDraw(chart: any, args: any) {
    const ds = chart.data.datasets[args.index];
    if (!ds.bodyStops) return;
    const ctx = chart.ctx;
    const r = ds.pointRadius * 0.82;
    ctx.save();
    args.meta.data.forEach((el: any) => {
      const grad = ctx.createRadialGradient(el.x, el.y, 0, el.x, el.y, r);
      grad.addColorStop(0, ds.bodyStops[0]);
      grad.addColorStop(1, ds.bodyStops[1]);
      ctx.fillStyle = grad;
      ctx.beginPath();
      ctx.arc(el.x, el.y, r, 0, Math.PI * 2);
      ctx.fill();
    });
    ctx.restore();
  },
};

const legendWidthPlugin = {
  id: "legendWidth",
  beforeDraw(chart: any) {
    if (chart.legend) {
      chart.legend.right = chart.width;
      chart.legend.width = chart.width - chart.legend.left;
    }
  },
};

interface Frame {
  left: number; top: number; width: number; height: number;
  areaLeft: number; areaRight: number; areaTop: number; areaBottom: number;
  xMin: number; xMax: number; yMin: number; yMax: number;
  xTicks: number[]; xLabels: string[];
  xTitle: string; yTitle: string; titleSize: number;
  xTitlePad: number; yTitlePad: number;
  letter: string; letterX: number; letterY: number;
}

const frameA: Frame = { left: 0, top: 0, width: 1040, height: 990, areaLeft: 188, areaRight: 955, areaTop: 95.5, areaBottom: 823, xMin: -0.3895, xMax: 0.2235, yMin: -0.322, yMax: 0.2053, xTicks: xTicksAB, xLabels: xTickLabelsAB, xTitle: "PC1 (5.34%)", yTitle: "PC2 (3.81%)", titleSize: 47.3, xTitlePad: -5, yTitlePad: -4, letter: "A", letterX: 12, letterY: 26 };
const frameB: Frame = { left: 975, top: 0, width: 971, height: 990, areaLeft: 1171.3, areaRight: 1938.5, areaTop: 95.5, areaBottom: 823, xMin: -0.39, xMax: 0.2228, yMin: -0.322, yMax: 0.2053, xTicks: xTicksAB, xLabels: xTickLabelsAB, xTitle: "PC1 (5.34%)", yTitle: "PC2 (3.81%)", titleSize: 47.3, xTitlePad: -5, yTitlePad: 4, letter: "B", letterX: 69, letterY: 26 };
const frameC: Frame = { left: 0, top: 990, width: 1040, height: 990, areaLeft: 188, areaRight: 955, areaTop: 1077, areaBottom: 1807, xMin: -0.458, xMax: 0.2158, yMin: -0.383, yMax: 0.2285, xTicks: xTicksC, xLabels: xTickLabelsC, xTitle: "PC1 (4.65%)", yTitle: "PC2 (3.88%)", titleSize: 59, xTitlePad: -1, yTitlePad: -2, letter: "C", letterX: 2, letterY: 30 };

function chartConfig(f: Frame, datasets: any[], plugins: any[]) {
  const tickFont = { family: FONT, size: 39 };
  const titleFont = { family: FONT, size: f.titleSize };
  const grid = { drawOnChartArea: false, drawTicks: true, tickLength: 19, tickWidth: 3.5, tickColor: "#000" };
  return {
    type: "scatter",
    data: { datasets },
    plugins,
    options: {
      animation: false,
      responsive: false,
      events: [],
      layout: {
        autoPadding: false,
        padding: {
          left: 0,
          top: f.areaTop - f.top,
          right: f.left + f.width - f.areaRight,
          bottom: 0,
        },
      },
      plugins: { legend: { display: false }, tooltip: { enabled: false } },
      scales: {
        x: {
          type: "linear",
          min: f.xMin,
          max: f.xMax,
          grid,
          border: { display: false },
          afterBuildTicks: (s: any) => { s.ticks = f.xTicks.map((value) => ({ value })); },
          afterFit: (s: any) => {
            s.height = f.top + f.height - f.areaBottom;
            s.paddingLeft = 0;
            s.paddingRight = 0;
          },
          ticks: {
            autoSkip: false,
            maxRotation: 0,
            padding: 21,
            color: "#1a1a1a",
            font: tickFont,
            callback: (_v: any, i: number) => f.xLabels[i],
          },
          title: { display: true, text: f.xTitle, color: "#1a1a1a", font: titleFont, padding: { top: 0, bottom: f.xTitlePad } },
        },
        y: {
          type: "linear",
          min: f.yMin,
          max: f.yMax,
          grid,
          border: { display: false },
          afterBuildTicks: (s: any) => { s.ticks = yTicks.map((value) => ({ value })); },
          afterFit: (s: any) => {
            s.width = f.areaLeft - f.left;
            s.paddingTop = 0;
            s.paddingBottom = 0;
          },
          ticks: {
            autoSkip: false,
            padding: 15,
            color: "#1a1a1a",
            font: tickFont,
            callback: (_v: any, i: number) => yTickLabels[i],
          },
          title: { display: true, text: f.yTitle, color: "#1a1a1a", font: titleFont, padding: { top: f.yTitlePad, bottom: 0 } },
        },
      },
    },
  };
}

function labelDataset(rows: Row[]) {
  return {
    label: "accessions",
    names: rows.map((r) => r[0]),
    data: rows.map((r) => ({ x: r[1], y: r[2] })),
    pointRadius: 0,
    showLine: false,
  };
}

function pointDataset(label: string, pts: Pt[], r: number) {
  return {
    label,
    data: pts.map((p) => ({ x: p[0], y: p[1] })),
    pointRadius: r,
    pointStyle: sphere(label, r),
    bodyStops: SPHERE_STOPS[label],
    showLine: false,
  };
}

export default function App() {
  const refA = useRef<HTMLCanvasElement>(null);
  const refB = useRef<HTMLCanvasElement>(null);
  const refC = useRef<HTMLCanvasElement>(null);
  const refL = useRef<HTMLCanvasElement>(null);

  useEffect(() => {
    const coreAsPoints: Pt[] = coreAB.map((r) => [r[1], r[2]]);
    const charts: Chart[] = [];
    charts.push(new Chart(refA.current!, chartConfig(frameA, [labelDataset([...coreAB, ...panelALabels])], [framePlugin(), accessionLabelPlugin, letterPlugin(frameA.letter, frameA.letterX, frameA.letterY)]) as any));
    charts.push(new Chart(refB.current!, chartConfig(frameB, [
      pointDataset("G1", g1Points, 15),
      pointDataset("G3", g3Points, 15),
      pointDataset("G2", g2Points, 15),
      pointDataset("G4", g4Points, 15),
      pointDataset("G6", g6Points, 15),
      pointDataset("G5", g5Points, 15),
      pointDataset("other", [...otherPoints, ...coreAsPoints], 10),
    ], [framePlugin(), sphereBodyPlugin, letterPlugin(frameB.letter, frameB.letterX, frameB.letterY)]) as any));
    charts.push(new Chart(refC.current!, chartConfig(frameC, [labelDataset([...coreC, ...panelCLabels])], [framePlugin(), accessionLabelPlugin, letterPlugin(frameC.letter, frameC.letterX, frameC.letterY)]) as any));

    const blank = document.createElement("canvas");
    blank.width = 1;
    blank.height = 1;
    charts.push(new Chart(refL.current!, {
      type: "scatter",
      data: { datasets: legendNames.map((label) => ({ label, data: [] })) },
      plugins: [legendWidthPlugin],
      options: {
        animation: false,
        responsive: false,
        events: [],
        layout: { autoPadding: false, padding: { left: 12.6, top: 17.5 } },
        scales: { x: { display: false }, y: { display: false } },
        plugins: {
          tooltip: { enabled: false },
          legend: {
            display: true,
            position: "left",
            align: "start",
            labels: {
              usePointStyle: true,
              boxWidth: 54,
              padding: 9,
              color: "#2b2b2b",
              font: { family: FONT, size: 75 },
              generateLabels: () => [
                { text: "Group of accessions", fillStyle: "transparent", strokeStyle: "transparent", lineWidth: 0, pointStyle: blank, hidden: false },
                ...legendNames.map((n, i) => ({ text: n, fillStyle: "transparent", strokeStyle: "transparent", lineWidth: 0, pointStyle: sphere(n, n === "other" ? 13.5 : 20), hidden: false, datasetIndex: i })),
              ],
            },
          },
        },
      },
    } as any));
    return () => charts.forEach((c) => c.destroy());
  }, []);

  const style = (f: { left: number; top: number }) => ({ position: "absolute" as const, left: f.left, top: f.top, display: "block" });

  return (
    <div>
      <canvas ref={refA} width={frameA.width} height={frameA.height} style={style(frameA)} />
      <canvas ref={refB} width={frameB.width} height={frameB.height} style={style(frameB)} />
      <canvas ref={refC} width={frameC.width} height={frameC.height} style={style(frameC)} />
      <canvas ref={refL} width={846} height={800} style={style({ left: 1100, top: 1100 })} />
    </div>
  );
}
